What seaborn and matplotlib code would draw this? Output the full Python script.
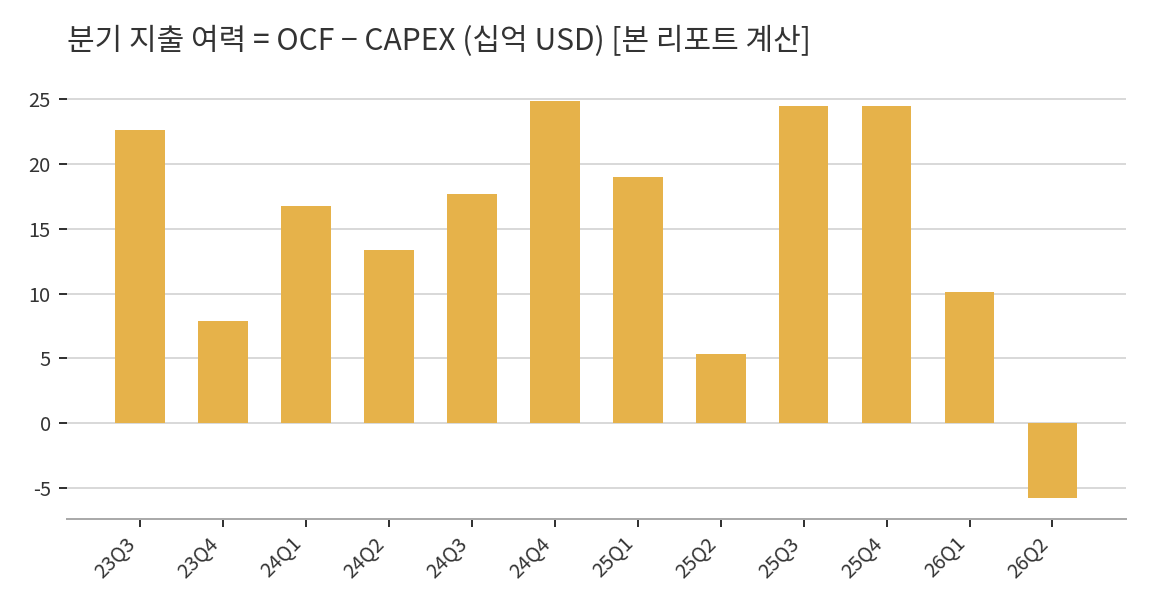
import matplotlib
matplotlib.use('Agg')
import matplotlib.pyplot as plt
import seaborn as sns
import pandas as pd

# quarterly data (billion USD)
quarters = ['23Q3', '23Q4', '24Q1', '24Q2', '24Q3', '24Q4',
            '25Q1', '25Q2', '25Q3', '25Q4', '26Q1', '26Q2']
fcf = [22.6, 7.9, 16.8, 13.4, 17.7, 24.85, 19.0, 5.3, 24.45, 24.5, 10.1, -5.8]

df = pd.DataFrame({'quarter': quarters, 'fcf': fcf})

sns.set_theme(style='white')
plt.rcParams['font.family'] = ['Noto Sans CJK KR', 'DejaVu Sans']
plt.rcParams['axes.unicode_minus'] = False

fig = plt.figure(figsize=(8, 4.25), dpi=144)
ax = fig.add_axes([0.058, 0.152, 0.919, 0.709])

sns.barplot(data=df, x='quarter', y='fcf', color='#E6B24A', saturation=1,
            width=0.6, linewidth=0, ax=ax, zorder=2)

ax.set_xlim(-0.88, len(quarters) - 1 + 0.88)
ax.set_ylim(-7.4, 26.1)
ax.set_yticks([-5, 0, 5, 10, 15, 20, 25])
ax.yaxis.grid(True, color='#d9d9d9', linewidth=1, zorder=0)
ax.set_axisbelow(True)

for s in ['top', 'right', 'left']:
    ax.spines[s].set_visible(False)
ax.spines['bottom'].set_color('#aaaaaa')
ax.spines['bottom'].set_linewidth(1)

ax.tick_params(axis='y', left=True, length=4, width=1, color='#333333',
               labelsize=10, labelcolor='#333333', pad=4)
ax.tick_params(axis='x', bottom=True, length=4, width=1, color='#333333',
               labelsize=10, labelcolor='#333333', pad=3)
plt.setp(ax.get_xticklabels(), rotation=45, ha='right')

ax.set_xlabel('')
ax.set_ylabel('')
fig.text(0.058, 0.932, '분기 지출 여력 = OCF − CAPEX (십억 USD) [본 리포트 계산]',
         fontsize=15, color='#333333', ha='left', va='center')

fig.savefig('out.png', dpi=144)
